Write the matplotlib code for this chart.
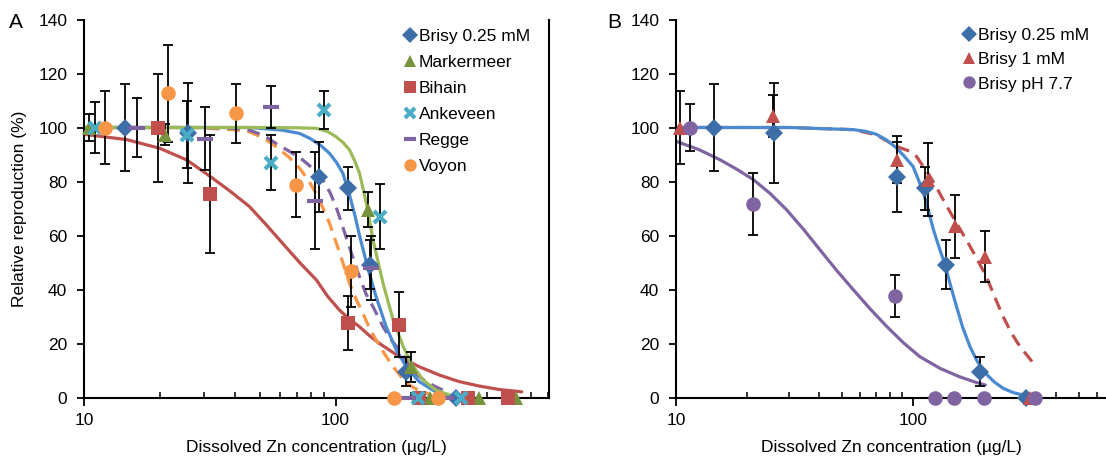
import matplotlib
matplotlib.use("Agg")
import matplotlib.pyplot as plt
import numpy as np
from matplotlib.ticker import FixedLocator, FuncFormatter

plt.rcParams["font.family"] = ["Liberation Sans", "DejaVu Sans"]
plt.rcParams["font.size"] = 12.5

# ---- panel A: toxicity data (dissolved Zn, relative reproduction %) ----
brisy_x = [14.5, 25.8, 86.0, 112.0, 137.5, 191.0, 300.0]
brisy_y = [100.0, 98.0, 81.7, 77.5, 49.2, 9.6, 0.0]
brisy_err = [16.0, 18.5, 13.0, 8.0, 9.0, 5.5, 0.0]

markermeer_x = [10.5, 21.0, 134.4, 199.6, 237.0, 372.0, 520.0]
markermeer_y = [100.0, 97.4, 69.5, 11.4, 0.0, 0.0, 0.0]
markermeer_err = [5.0, 4.0, 6.5, 5.5, 0.0, 0.0, 0.0]

bihain_x = [19.7, 31.6, 112.0, 179.5, 215.0, 335.0, 483.0]
bihain_y = [100.0, 75.4, 27.5, 26.9, 0.0, 0.0, 0.0]
bihain_err = [20.0, 21.7, 10.0, 12.0, 0.0, 0.0, 0.0]

ankeveen_x = [11.05, 25.6, 55.6, 90.4, 149.6, 212.0, 316.0]
ankeveen_y = [100.0, 97.4, 86.9, 106.6, 67.0, 0.0, 0.0]
ankeveen_err = [9.6, 12.5, 10.2, 7.0, 12.0, 0.0, 0.0]

regge_x = [16.2, 30.2, 55.6, 82.5, 138.6, 195.0, 275.0]
regge_y = [100.0, 95.9, 107.5, 72.9, 48.0, 0.0, 0.0]
regge_err = [11.0, 11.7, 7.8, 18.0, 12.0, 0.0, 0.0]

voyon_x = [12.1, 21.6, 40.1, 69.8, 115.4, 171.0, 255.0]
voyon_y = [100.0, 112.6, 105.2, 78.8, 46.7, 0.0, 0.0]
voyon_err = [13.6, 18.0, 11.0, 12.0, 13.0, 0.0, 0.0]

# fitted curves
fit_brisy_x = [10, 20, 30, 45.5, 61.6, 72, 79, 87, 94.7, 101, 107, 113.7, 119, 124.6, 134, 145, 159,
               174.5, 191, 215, 250, 292]
fit_brisy_y = [100, 100, 100, 100, 99, 97.8, 96, 93.5, 90.4, 87, 83, 75, 68, 60, 48.4, 37.3, 26.2,
               17.6, 11.4, 5.9, 2.1, 0.3]

fit_marker_x = [10, 30, 50, 70, 84, 93, 100.5, 107, 113.7, 119, 124.6, 129, 134, 141, 154.5, 169.5,
                186, 199.6, 223, 250, 292]
fit_marker_y = [100, 100, 100, 99.9, 99.7, 98.5, 96.6, 94.5, 91.7, 87.8, 83, 77, 70, 58.3, 42.3, 28.7,
                18.8, 12.7, 6.5, 2.8, 0.5]

fit_bihain_x = [10, 14.8, 20, 25.6, 31.6, 38, 45.5, 53, 61.6, 72, 84, 93, 103.6, 113.7, 124.6, 136,
                149.6, 179.5, 215, 259, 310, 370, 445, 550]
fit_bihain_y = [97.5, 95.5, 92.3, 88, 82, 76.5, 70.7, 64, 57.1, 50, 43.5, 37.5, 32.4, 29, 26.2, 23,
                20, 15.1, 11.4, 8.3, 5.9, 4.3, 3, 2.1]

fit_regge_x = [10, 30, 40, 45.5, 52, 58, 66, 74, 82, 89, 95, 100.5, 110, 117, 124.6, 132, 141,
               154.5, 166, 179.5, 193, 207, 228, 250, 284]
fit_regge_y = [100, 100, 99.7, 99, 97, 94.1, 91, 88, 84.5, 80.5, 76, 70.7, 59.6, 52.1, 44.7, 38.5,
               33.6, 26.2, 21.5, 17.6, 13, 9, 6, 4, 1.6]

fit_voyon_x = [10, 27, 39, 45.5, 52, 58, 65, 72, 78, 83.6, 89, 94.7, 104, 113.7, 121, 128.5, 136,
               145, 157, 169.5, 191, 215, 240]
fit_voyon_y = [100, 100, 99.2, 98.4, 96, 92.9, 89.2, 84.9, 80.5, 75.6, 70.3, 64.5, 53.4, 42.3, 36.2,
               31.2, 26, 21.3, 16, 11.4, 5.3, 2.5, 1]

# ---- panel B ----
brisy1_x = [10.4, 25.7, 85.2, 115.8, 150.4, 202.0, 312.0]
brisy1_y = [100.0, 104.2, 88.1, 80.7, 63.4, 52.2, 0.0]
brisy1_err = [13.7, 7.8, 8.6, 13.6, 11.6, 9.5, 0.0]

ph77_x = [11.5, 21.2, 83.6, 123.7, 149.0, 199.6, 326.0]
ph77_y = [100.0, 71.8, 37.6, 0.0, 0.0, 0.0, 0.0]
ph77_err = [8.6, 11.5, 7.8, 0.0, 0.0, 0.0, 0.0]

fit_b_brisy_x = [10, 30, 56, 63, 70, 77, 85, 92, 100, 105, 110.5, 116, 122, 129, 136.5, 144, 152.6,
                 162, 174, 187, 202, 220, 240, 265, 292, 320]
fit_b_brisy_y = [100, 100, 99.2, 98.6, 97.5, 95.5, 92.5, 89.3, 85.6, 81, 76, 69.5, 62.1, 55.5, 49.1,
                 41.5, 33.7, 26, 18.8, 13.3, 9, 5.8, 3.4, 1.8, 0.9, 0.3]

fit_b_brisy1_x = [10, 30, 56, 70, 85, 97, 103.4, 110, 118, 126, 134, 143, 152.6, 163, 174, 188,
                  204, 221, 240, 260, 283, 305, 326]
fit_b_brisy1_y = [100, 100, 99.2, 97.3, 93, 91.2, 89.3, 85.8, 81.9, 77.6, 73.3, 68.9, 64.6, 60.3,
                  56, 50.6, 44.8, 37.3, 30, 23.9, 18.8, 15.3, 12.1]

fit_b_ph77_x = [10, 12.5, 15.3, 18, 21.2, 25, 29.3, 34.5, 40.5, 47.5, 56, 66, 77.5, 91, 107, 130,
                157, 180, 202]
fit_b_ph77_y = [94.9, 91.8, 88.1, 84.6, 80.7, 75.5, 69.5, 62.3, 54.7, 47.2, 39.9, 32.8, 26.3, 20.3,
                15.1, 10.8, 7.7, 5.9, 4.6]

BLUE_M, BLUE_L = "#3E6EA8", "#4A8AD0"
GREEN_M, GREEN_L = "#77933C", "#9BBB59"
RED = "#C0504D"
AQUA = "#4BACC6"
PURPLE = "#8064A2"
ORANGE = "#F79646"

W, H = 1106, 459
fig = plt.figure(figsize=(W / 100, H / 100), dpi=100)
y_top, y_bot = 19.5, 397.5
axA = fig.add_axes([84 / W, (H - y_bot) / H, (549 - 84) / W, (y_bot - y_top) / H])
axB = fig.add_axes([676 / W, (H - y_bot) / H, (1106 - 676) / W, (y_bot - y_top) / H])


def style_axis(ax, xmax, right_spine):
    ax.set_xscale("log")
    ax.set_xlim(10, xmax)
    ax.set_ylim(0, 140)
    ax.set_yticks(np.arange(0, 141, 20))
    ax.xaxis.set_major_locator(FixedLocator([10, 100, 1000]))
    ax.xaxis.set_minor_locator(FixedLocator([m * d for d in (10, 100) for m in range(2, 10)]))
    ax.xaxis.set_major_formatter(FuncFormatter(lambda v, _: f"{v:g}"))
    ax.xaxis.set_minor_formatter(FuncFormatter(lambda v, _: ""))
    ax.tick_params(axis="x", which="major", direction="out", length=6, width=1.3, pad=5)
    ax.tick_params(axis="x", which="minor", direction="in", length=4, width=1.1)
    ax.tick_params(axis="y", which="major", direction="out", length=5, width=1.3, pad=7)
    ax.spines["top"].set_visible(False)
    ax.spines["right"].set_visible(right_spine)
    for s in ("left", "bottom", "right"):
        ax.spines[s].set_linewidth(1.5)
    ax.set_xlabel("Dissolved Zn concentration (µg/L)", labelpad=9)


def draw_series(ax, x, y, err, color, marker, ms, label, mew=0):
    x, y, err = np.asarray(x), np.asarray(y), np.asarray(err)
    m = err > 0
    ax.errorbar(x[m], y[m], yerr=err[m], fmt="none", ecolor="black",
                elinewidth=1.3, capsize=3.5, capthick=1.3, zorder=3, clip_on=False)
    if marker in ("x", "_"):
        ax.plot(x, y, linestyle="none", marker=marker, ms=ms, mec=color,
                mew=mew, zorder=4, clip_on=False, label=label)
    else:
        ax.plot(x, y, linestyle="none", marker=marker, ms=ms, mfc=color,
                mec=color, mew=0, zorder=4, clip_on=False, label=label)


def draw_fit(ax, x, y, color, dashed=False):
    line, = ax.plot(x, y, color=color, lw=2.3, zorder=2,
                    solid_capstyle="round", solid_joinstyle="round")
    if dashed:
        line.set_dashes((4, 2.4))


# panel A
draw_fit(axA, fit_bihain_x, fit_bihain_y, RED)
draw_fit(axA, fit_voyon_x, fit_voyon_y, ORANGE, dashed=True)
draw_fit(axA, fit_regge_x, fit_regge_y, PURPLE, dashed=True)
draw_fit(axA, fit_brisy_x, fit_brisy_y, BLUE_L)
draw_fit(axA, fit_marker_x, fit_marker_y, GREEN_L)

draw_series(axA, brisy_x, brisy_y, brisy_err, BLUE_M, "D", 9.5, "Brisy 0.25 mM")
draw_series(axA, markermeer_x, markermeer_y, markermeer_err, GREEN_M, "^", 10, "Markermeer")
draw_series(axA, bihain_x, bihain_y, bihain_err, RED, "s", 9.5, "Bihain")
draw_series(axA, ankeveen_x, ankeveen_y, ankeveen_err, AQUA, "x", 9, "Ankeveen", mew=3)
draw_series(axA, regge_x, regge_y, regge_err, PURPLE, "_", 11, "Regge", mew=3)
draw_series(axA, voyon_x, voyon_y, voyon_err, ORANGE, "o", 10.5, "Voyon")

style_axis(axA, 706, True)
axA.set_ylabel("Relative reproduction (%)", labelpad=8)
axA.legend(loc="upper left", bbox_to_anchor=(404 / W, 1 - 29 / H), bbox_transform=fig.transFigure,
           frameon=False, handlelength=0.7, handletextpad=0.15, labelspacing=0.62,
           borderpad=0, borderaxespad=0, markerscale=0.85)

# panel B
draw_fit(axB, fit_b_ph77_x, fit_b_ph77_y, PURPLE)
draw_fit(axB, fit_b_brisy1_x, fit_b_brisy1_y, RED, dashed=True)
draw_fit(axB, fit_b_brisy_x, fit_b_brisy_y, BLUE_L)

draw_series(axB, brisy_x, brisy_y, brisy_err, BLUE_M, "D", 9.5, "Brisy 0.25 mM")
draw_series(axB, brisy1_x, brisy1_y, brisy1_err, RED, "^", 10, "Brisy 1 mM")
draw_series(axB, ph77_x, ph77_y, ph77_err, PURPLE, "o", 10.5, "Brisy pH 7.7")

style_axis(axB, 10 ** (1 + 430 / 237), False)
axB.legend(loc="upper left", bbox_to_anchor=(963 / W, 1 - 28 / H), bbox_transform=fig.transFigure,
           frameon=False, handlelength=0.7, handletextpad=0.15, labelspacing=0.52,
           borderpad=0, borderaxespad=0, markerscale=0.85)

fig.text(16 / W, 1 - 22 / H, "A", fontsize=15, ha="center", va="center")
fig.text(614 / W, 1 - 22 / H, "B", fontsize=15, ha="center", va="center")

fig.savefig("out.png", dpi=100)
